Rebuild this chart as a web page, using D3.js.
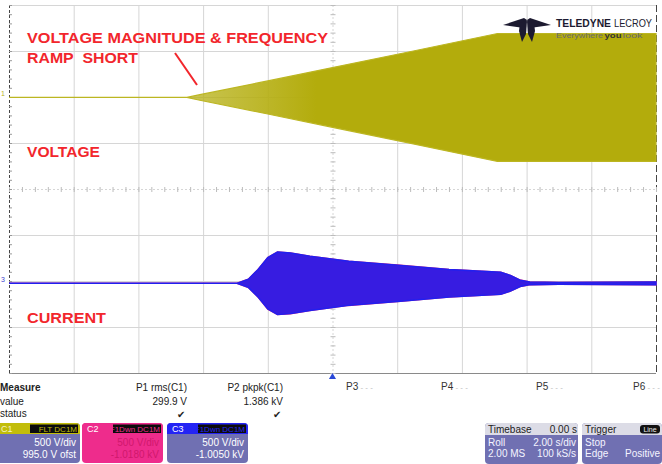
<!DOCTYPE html>
<html>
<head>
<meta charset="utf-8">
<script src="https://cdn.jsdelivr.net/npm/d3@7"></script>
<style>
  body { margin: 0; background: #fff; }
  svg { display: block; font-family: "Liberation Sans", Arial, sans-serif; }
</style>
</head>
<body>
<svg id="chart" width="662" height="464"></svg>
<script>
// time in seconds (2 s/div, trigger at centre), amplitudes in volts
var voltageTime = [-10, -4.5, -4.1, -2, 0, 2.5, 5.1, 10];
var voltageAmp = [0, 0, 30, 180, 325, 505, 695, 695];

var currentTime = [-10, -2.95, -2.6, -2.3, -2.0, -1.7, -1.3, -0.7, 0.5, 2.1, 3.6, 5.2, 5.5, 5.8, 6.1, 7.0, 10];
var currentAmp = [0, 0, 45, 150, 280, 340, 330, 295, 240, 195, 150, 120, 85, 35, 15, 10, 15];
var currentBase = -20;

var measureNames = ["P1 rms(C1)", "P2 pkpk(C1)"];
var measureValues = ["299.9 V", "1.386 kV"];
var paramSlots = ["P3", "P4", "P5", "P6"];

var channels = [
  { name: "C1", tags: ["FLT", "DC1M"], lines: ["500 V/div", "995.0 V ofst"], head: "#c2bd0a", body: "#7070b2", text: "#fff", tagText: "#c2bd0a" },
  { name: "C2", tags: ["F1Dwn", "DC1M"], lines: ["500 V/div", "-1.0180 kV"], head: "#ee2c8c", body: "#ee2c8c", text: "#d0186c", tagText: "#ee2c8c" },
  { name: "C3", tags: ["F1Dwn", "DC1M"], lines: ["500 V/div", "-1.0050 kV"], head: "#2424f4", body: "#7070b2", text: "#fff", tagText: "#2424f4" }
];

var svg = d3.select("#chart");
var grid = { left: 9, right: 656, top: 5, bottom: 373 };

var x = d3.scaleLinear().domain([-10, 10]).range([grid.left, grid.right]);
var yDiv = d3.scaleLinear().domain([-4, 4]).range([grid.bottom, grid.top]);
// C1 offset +995 V, C3 offset -1005 V, 500 V/div
var yVolt = d3.scaleLinear().domain([-995 - 2000, -995 + 2000]).range([grid.bottom, grid.top]);
var yCurr = d3.scaleLinear().domain([1005 - 2000, 1005 + 2000]).range([grid.bottom, grid.top]);

// grid
var g = svg.append("g");
d3.range(-4, 5).forEach(function (d) {
  g.append("line")
    .attr("x1", grid.left).attr("x2", grid.right)
    .attr("y1", yDiv(d) + 0.5).attr("y2", yDiv(d) + 0.5)
    .attr("stroke", d === -4 ? "#8a8a8a" : "#d6d6d6")
    .attr("stroke-dasharray", d === 0 ? "2,2" : null);
});
d3.range(-10, 12, 2).forEach(function (d) {
  var edge = d === -10 || d === 10;
  g.append("line")
    .attr("x1", x(d) + 0.5).attr("x2", x(d) + 0.5)
    .attr("y1", grid.top).attr("y2", grid.bottom)
    .attr("stroke", edge ? "#444" : "#d6d6d6")
    .attr("stroke-dasharray", edge ? (d === -10 ? "3,2" : "7,3") : d === 0 ? "2,2" : null);
});
// minor ticks on centre axes
d3.range(-10, 10.01, 0.4).forEach(function (d) {
  g.append("line")
    .attr("x1", x(d) + 0.5).attr("x2", x(d) + 0.5)
    .attr("y1", yDiv(0) - 2).attr("y2", yDiv(0) + 3)
    .attr("stroke", "#bcbcbc");
});
d3.range(-4, 4.01, 0.2).forEach(function (d) {
  g.append("line")
    .attr("x1", x(0) - 2).attr("x2", x(0) + 3)
    .attr("y1", yDiv(d) + 0.5).attr("y2", yDiv(d) + 0.5)
    .attr("stroke", "#bcbcbc");
  g.append("line")
    .attr("x1", grid.left).attr("x2", grid.left + 3)
    .attr("y1", yDiv(d) + 0.5).attr("y2", yDiv(d) + 0.5)
    .attr("stroke", "#9a9a9a");
});

// voltage trace (envelope)
var defs = svg.append("defs");
var grad = defs.append("linearGradient")
  .attr("id", "vfade").attr("gradientUnits", "userSpaceOnUse")
  .attr("x1", x(-4.5)).attr("x2", x(-0.5)).attr("y1", 0).attr("y2", 0);
grad.append("stop").attr("offset", 0).attr("stop-color", "#b8b21a").attr("stop-opacity", 0.75);
grad.append("stop").attr("offset", 1).attr("stop-color", "#b3ac0c").attr("stop-opacity", 1);

var vData = voltageTime.map(function (t, i) { return { t: t, a: voltageAmp[i] }; });
var vArea = d3.area()
  .x(function (d) { return x(d.t); })
  .y0(function (d) { return yVolt(-d.a); })
  .y1(function (d) { return yVolt(d.a); });
svg.append("path").datum(vData)
  .attr("d", vArea)
  .attr("fill", "url(#vfade)")
  .attr("stroke", "#bcb622").attr("stroke-width", 1.2);

// current traces: C2 (magenta) under C3 (blue)
var cData = currentTime.map(function (t, i) { return { t: t, a: currentAmp[i] }; });
var cArea = d3.area()
  .x(function (d) { return x(d.t); })
  .y0(function (d) { return yCurr(currentBase - d.a); })
  .y1(function (d) { return yCurr(currentBase + d.a); });
svg.append("path").datum(cData)
  .attr("d", cArea)
  .attr("fill", "#d8207a").attr("stroke", "#d8207a").attr("stroke-width", 1.5);
svg.append("path").datum(cData)
  .attr("d", cArea)
  .attr("fill", "#1c1cf2").attr("fill-opacity", 0.86)
  .attr("stroke", "#2020f0").attr("stroke-width", 1.4);

// channel markers
svg.append("text").attr("x", 1).attr("y", yVolt(0) - 1)
  .attr("font-size", 7).attr("fill", "#b8b21a").text("1");
svg.append("text").attr("x", 1).attr("y", yCurr(currentBase) - 1)
  .attr("font-size", 7).attr("fill", "#4040d0").text("3");

// trigger marker
svg.append("path")
  .attr("d", d3.symbol().type(d3.symbolTriangle).size(22)())
  .attr("transform", "translate(" + x(0) + "," + (grid.bottom + 4) + ")")
  .attr("fill", "#2a48d8");

// annotations
var red = "#f2262c";
function label(txt, lx, ly, w) {
  svg.append("text").attr("x", lx).attr("y", ly)
    .attr("font-size", 15.5).attr("font-weight", "bold").attr("fill", red)
    .attr("textLength", w).attr("lengthAdjust", "spacingAndGlyphs")
    .text(txt);
}
label("VOLTAGE MAGNITUDE & FREQUENCY", 27, 43, 301);
label("RAMP\u00a0 SHORT", 27, 63, 111);
label("VOLTAGE", 27, 157, 73);
label("CURRENT", 27, 323, 79);
svg.append("line")
  .attr("x1", 175).attr("y1", 53).attr("x2", 197).attr("y2", 85)
  .attr("stroke", red).attr("stroke-width", 2);

// logo
var logo = svg.append("g").attr("fill", "#1c1a30");
logo.append("path").attr("d", "M503,25 L524,18 L527,20 L524,28 Z");
logo.append("path").attr("d", "M551,25 L530,18 L527,20 L530,28 Z");
logo.append("path").attr("d", "M520,23 L527,21 L526,34 L522,42 L519,31 Z");
logo.append("path").attr("d", "M534,23 L527,21 L528,34 L532,42 L535,31 Z");
function logoText(t, lx, ly, w, size, weight, fill) {
  svg.append("text").attr("x", lx).attr("y", ly)
    .attr("font-size", size).attr("font-weight", weight).attr("fill", fill)
    .attr("textLength", w).attr("lengthAdjust", "spacingAndGlyphs")
    .text(t);
}
logoText("TELEDYNE", 556, 27, 55, 11, "bold", "#1c1a30");
logoText("LECROY", 614, 27, 38, 11, "normal", "#1c1a30");
logoText("Everywhere", 556, 38, 47, 8, "normal", "#6a6a70");
logoText("you", 604.5, 38, 17, 8, "bold", "#333");
logoText("look", 622.5, 38, 20, 8, "normal", "#6a6a70");

// measurement table
var txt = "#222";
svg.append("text").attr("x", 0).attr("y", 391).attr("font-size", 10).attr("font-weight", "bold").attr("fill", txt).text("Measure");
svg.append("text").attr("x", 0).attr("y", 405).attr("font-size", 10).attr("fill", txt).text("value");
svg.append("text").attr("x", 0).attr("y", 417).attr("font-size", 10).attr("fill", txt).text("status");
var measX = [187, 283];
measureNames.forEach(function (n, i) {
  svg.append("text").attr("x", measX[i]).attr("y", 391).attr("text-anchor", "end")
    .attr("font-size", 10).attr("fill", txt).text(n);
  svg.append("text").attr("x", measX[i]).attr("y", 405).attr("text-anchor", "end")
    .attr("font-size", 10).attr("fill", txt).text(measureValues[i]);
  svg.append("text").attr("x", measX[i] - 2).attr("y", 418).attr("text-anchor", "end")
    .attr("font-size", 10).attr("fill", txt).text("\u2714");
});
var slotX = [346, 441, 536, 633];
paramSlots.forEach(function (p, i) {
  svg.append("text").attr("x", slotX[i]).attr("y", 390)
    .attr("font-size", 10).attr("fill", "#333")
    .html(p + '<tspan fill="#bbb" font-size="8"> - - -</tspan>');
});

// channel descriptor boxes
var boxX = [-4, 82, 167];
var boxW = [84, 81, 81];
channels.forEach(function (c, i) {
  var bx = boxX[i], bw = boxW[i];
  var b = svg.append("g");
  b.append("rect").attr("x", bx).attr("y", 423).attr("width", bw).attr("height", 40)
    .attr("rx", 4).attr("fill", c.body);
  b.append("path")
    .attr("d", "M" + bx + ",434 L" + bx + ",427 Q" + bx + ",423 " + (bx + 4) + ",423 L" + (bx + bw - 4) + ",423 Q" + (bx + bw) + ",423 " + (bx + bw) + ",427 L" + (bx + bw) + ",434 Z")
    .attr("fill", c.head);
  b.append("text").attr("x", bx + 5).attr("y", 432).attr("font-size", 9)
    .attr("fill", i === 0 ? "#f4f2c0" : "#fff").text(c.name);
  b.append("rect").attr("x", bx + bw - 50).attr("y", 424.5).attr("width", 48).attr("height", 8.5)
    .attr("fill", "#0c0c0c");
  b.append("text").attr("x", bx + bw - 3).attr("y", 432).attr("text-anchor", "end")
    .attr("font-size", 8).attr("fill", c.tagText).text(c.tags.join(" "));
  b.append("text").attr("x", bx + bw - 4).attr("y", 446).attr("text-anchor", "end")
    .attr("font-size", 10).attr("fill", c.text).text(c.lines[0]);
  b.append("text").attr("x", bx + bw - 4).attr("y", 458).attr("text-anchor", "end")
    .attr("font-size", 10).attr("fill", c.text).text(c.lines[1]);
});

// timebase and trigger boxes
function infoBox(bx, bw, head, headRight, rows, tag) {
  var b = svg.append("g");
  b.append("rect").attr("x", bx).attr("y", 423).attr("width", bw).attr("height", 41)
    .attr("rx", 4).attr("fill", "#7070b2");
  b.append("path")
    .attr("d", "M" + bx + ",435 L" + bx + ",427 Q" + bx + ",423 " + (bx + 4) + ",423 L" + (bx + bw - 4) + ",423 Q" + (bx + bw) + ",423 " + (bx + bw) + ",427 L" + (bx + bw) + ",435 Z")
    .attr("fill", "#dcdce6");
  b.append("text").attr("x", bx + 3).attr("y", 432.5).attr("font-size", 10).attr("fill", "#222").text(head);
  if (headRight) {
    b.append("text").attr("x", bx + bw - 1).attr("y", 432.5).attr("text-anchor", "end")
      .attr("font-size", 10).attr("fill", "#222").text(headRight);
  }
  if (tag) {
    b.append("rect").attr("x", bx + bw - 22).attr("y", 425).attr("width", 20).attr("height", 8.5)
      .attr("rx", 3).attr("fill", "#111");
    b.append("text").attr("x", bx + bw - 12).attr("y", 432).attr("text-anchor", "middle")
      .attr("font-size", 7).attr("fill", "#eee").text(tag);
  }
  rows.forEach(function (r, j) {
    b.append("text").attr("x", bx + 3).attr("y", 446 + j * 11).attr("font-size", 10)
      .attr("fill", "#f4f4ff").text(r[0]);
    b.append("text").attr("x", bx + bw - 2).attr("y", 446 + j * 11).attr("text-anchor", "end")
      .attr("font-size", 10).attr("fill", "#f4f4ff").text(r[1]);
  });
}
infoBox(485, 93, "Timebase", "0.00 s", [["Roll", "2.00 s/div"], ["2.00 MS", "100 kS/s"]]);
infoBox(582, 80, "Trigger", null, [["Stop", ""], ["Edge", "Positive"]], "Line");
</script>
</body>
</html>
